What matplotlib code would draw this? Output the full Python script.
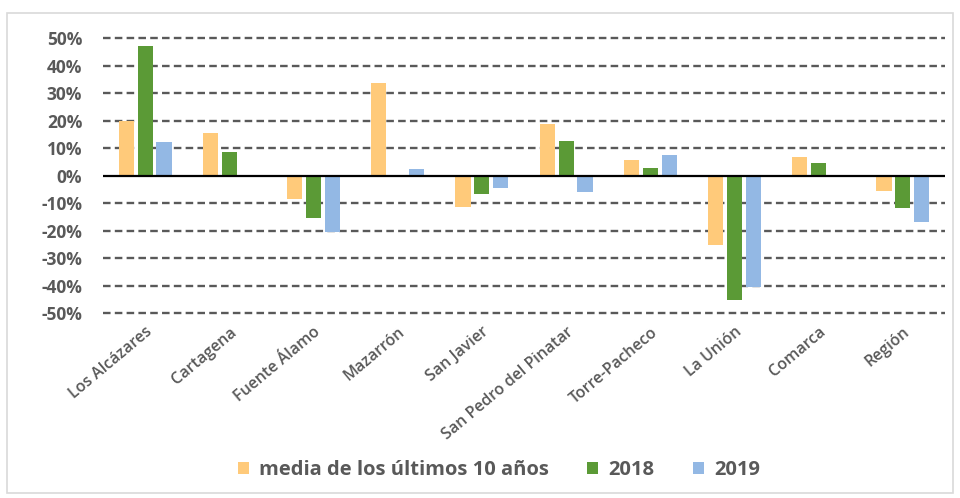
import matplotlib
matplotlib.use("Agg")
import matplotlib.pyplot as plt
from matplotlib.patches import Rectangle
import numpy as np

plt.rcParams['font.family'] = ['Open Sans', 'DejaVu Sans']

municipios = ["Los Alcázares", "Cartagena", "Fuente Álamo", "Mazarrón", "San Javier",
              "San Pedro del Pinatar", "Torre-Pacheco", "La Unión", "Comarca", "Región"]
media_10 = [0.197, 0.154, -0.085, 0.337, -0.115, 0.188, 0.055, -0.252, 0.069, -0.057]
v2018 = [0.470, 0.084, -0.155, 0.0, -0.069, 0.125, 0.027, -0.452, 0.046, -0.117]
v2019 = [0.121, 0.0, -0.206, 0.024, -0.046, -0.060, 0.073, -0.406, 0.0, -0.170]
yticks = [0.5, 0.4, 0.3, 0.2, 0.1, 0.0, -0.1, -0.2, -0.3, -0.4, -0.5]

c_media = "#FFCA7A"
c_2018 = "#5B9A36"
c_2019 = "#93B8E4"
gris = "#595959"

fig = plt.figure(figsize=(9.6, 4.98), dpi=100)
ax = fig.add_axes([103 / 960, 1 - 313 / 498, 842 / 960, 275 / 498])

# marco gris claro alrededor del gráfico
fig.patches.append(Rectangle((7 / 960, 5 / 498), 946 / 960, 480 / 498, transform=fig.transFigure,
                             fill=False, edgecolor="#d9d9d9", linewidth=1.2))

x = np.arange(len(municipios))
w = 0.18
ax.bar(x - 0.225, media_10, w, color=c_media, label="media de los últimos 10 años", zorder=3)
ax.bar(x, v2018, w, color=c_2018, label="2018", zorder=3)
ax.bar(x + 0.225, v2019, w, color=c_2019, label="2019", zorder=3)

ax.set_xlim(-0.5, len(municipios) - 0.5)
ax.set_ylim(-0.5, 0.5)
ax.set_yticks(yticks)
ax.set_yticklabels([f"{int(round(t * 100))}%" for t in yticks], color=gris,
                   fontsize=12.5, fontweight="bold")
for t in yticks:
    if t != 0:
        ax.axhline(t, color=gris, linestyle=(0, (3.2, 1.8)), linewidth=1.7, zorder=1, clip_on=False)
ax.axhline(0, color="black", linewidth=1.6, zorder=4)

ax.set_xticks(x)
ax.set_xticklabels(municipios, rotation=40, ha="right", rotation_mode="anchor",
                   color=gris, fontsize=11.5, fontweight="semibold")
ax.tick_params(axis="x", length=0, pad=8)
ax.tick_params(axis="y", length=0, pad=15)
for s in ax.spines.values():
    s.set_visible(False)

fig.legend(loc="center", bbox_to_anchor=(499 / 960, 1 - 470 / 498), ncol=3, frameon=False,
           handlelength=0.55, handleheight=0.55, handletextpad=0.5, columnspacing=1.9,
           prop={"size": 14.5, "weight": "bold"}, labelcolor=gris)

fig.savefig("out.png", dpi=100)
